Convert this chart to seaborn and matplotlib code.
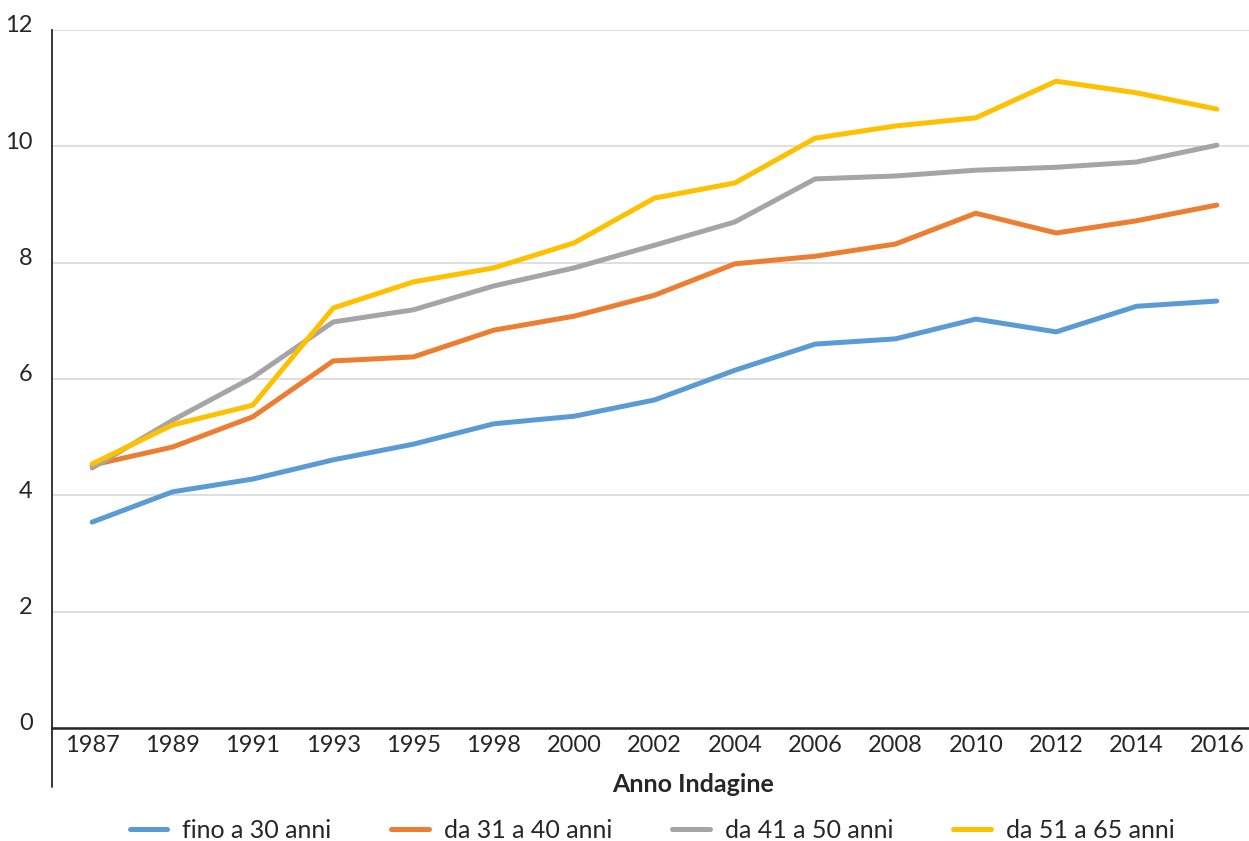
import matplotlib
matplotlib.use("Agg")
import matplotlib.pyplot as plt
import matplotlib.transforms as mtransforms
import seaborn as sns
import pandas as pd

years = ["1987", "1989", "1991", "1993", "1995", "1998", "2000", "2002",
         "2004", "2006", "2008", "2010", "2012", "2014", "2016"]
fino_30 = [3.54, 4.06, 4.28, 4.61, 4.88, 5.23, 5.36, 5.64, 6.15, 6.60, 6.69, 7.03, 6.81, 7.25, 7.34]
da_31_40 = [4.52, 4.83, 5.35, 6.31, 6.38, 6.84, 7.08, 7.44, 7.98, 8.11, 8.32, 8.85, 8.51, 8.72, 8.99]
da_41_50 = [4.47, 5.29, 6.03, 6.98, 7.19, 7.60, 7.91, 8.30, 8.70, 9.44, 9.49, 9.59, 9.64, 9.73, 10.02]
da_51_65 = [4.54, 5.21, 5.55, 7.22, 7.67, 7.91, 8.34, 9.11, 9.37, 10.14, 10.35, 10.49, 11.12, 10.92, 10.64]
series_names = ["fino a 30 anni", "da 31 a 40 anni", "da 41 a 50 anni", "da 51 a 65 anni"]
colors = ["#5B9BD5", "#ED7D31", "#A5A5A5", "#FFC000"]

rows = []
for name, vals in zip(series_names, [fino_30, da_31_40, da_41_50, da_51_65]):
    for y, v in zip(years, vals):
        rows.append({"Anno": y, "Valore": v, "Serie": name})
df = pd.DataFrame(rows)

sns.set_theme(style="white")
plt.rcParams["font.family"] = ["Lato", "DejaVu Sans"]

fig = plt.figure(figsize=(12.49, 8.41), dpi=100)
ax = fig.add_axes([52 / 1249, 1 - 728 / 841, 1205 / 1249, 698 / 841])

sns.lineplot(data=df, x="Anno", y="Valore", hue="Serie", palette=colors,
             hue_order=series_names, linewidth=3.6, ax=ax, sort=False)

ax.set_xlim(-0.5, len(years) - 0.5)
ax.set_ylim(0, 12)
ax.set_yticks(range(0, 13, 2))
ax.yaxis.grid(True, color="#d9d9d9", linewidth=1.2)
ax.set_axisbelow(True)
for s in ["top", "right"]:
    ax.spines[s].set_visible(False)
ax.spines["left"].set_color("#262626")
ax.spines["left"].set_linewidth(1.3)
ax.spines["bottom"].set_color("#262626")
ax.spines["bottom"].set_linewidth(1.8)
ax.axvline(-0.5, ymin=-0.085, ymax=0, color="#262626", linewidth=1.3, clip_on=False)

ax.tick_params(axis="both", length=0, labelsize=17, colors="#262626")
ax.tick_params(axis="y", pad=14)
ax.tick_params(axis="x", pad=5)
shift = mtransforms.ScaledTranslation(0, 4 / 100, fig.dpi_scale_trans)
for lbl in ax.get_yticklabels():
    lbl.set_verticalalignment("center")
    lbl.set_transform(lbl.get_transform() + shift)
ax.set_ylabel("")
ax.set_xlabel("Anno Indagine", fontsize=18, fontweight="bold", color="#262626",
              va="center")
ax.xaxis.set_label_coords((693 - 52) / 1205, (728 - 785) / 698)

handles, labels = ax.get_legend_handles_labels()
for h in handles:
    h.set_solid_capstyle("round")
ax.legend_.remove()
fig.legend(handles, labels, loc="center", bbox_to_anchor=(652 / 1249, 1 - 830 / 841), ncol=4,
           frameon=False, fontsize=18, handlelength=1.5, columnspacing=2.4,
           handletextpad=0.6, labelcolor="#262626")

fig.savefig("out.png", dpi=100)
